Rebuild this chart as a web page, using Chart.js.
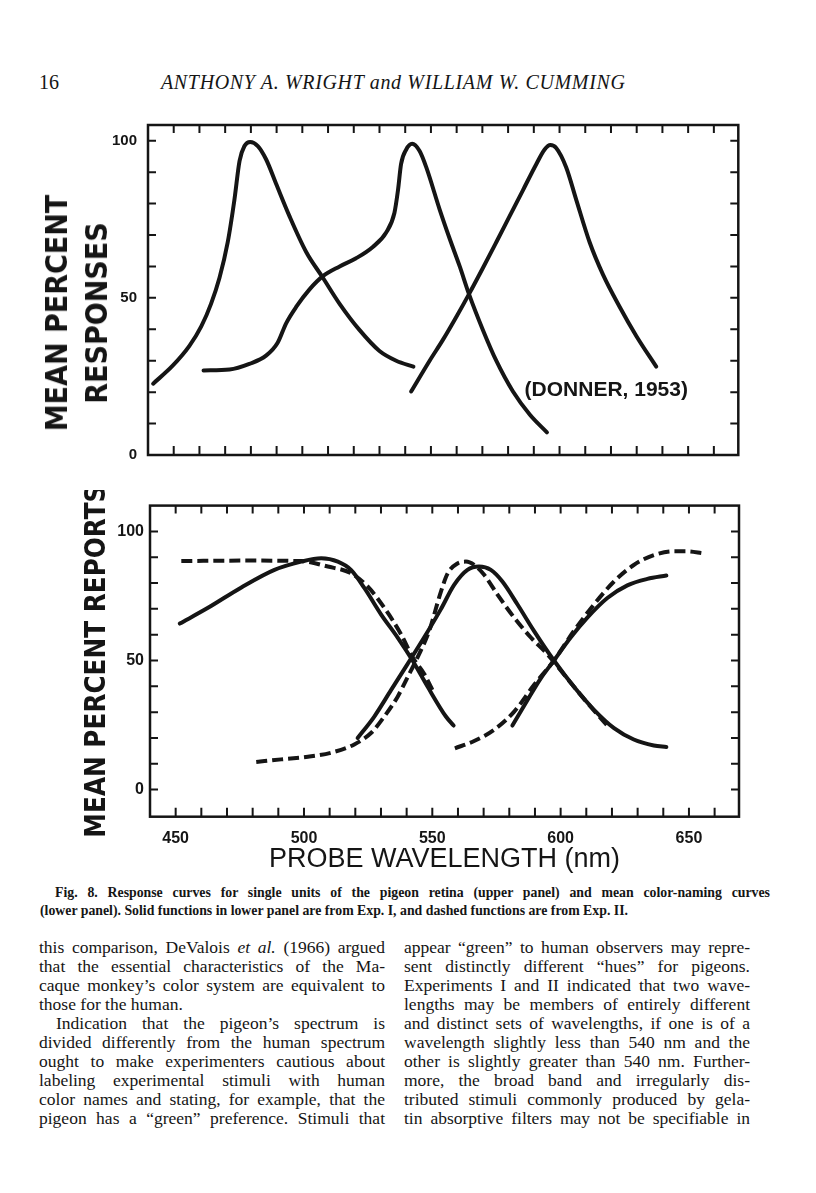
<!DOCTYPE html>
<html>
<head>
<meta charset="utf-8">
<script src="https://cdn.jsdelivr.net/npm/chart.js@4.4.1/dist/chart.umd.min.js"></script>
<style>
  body {
    margin: 0;
    width: 816px;
    height: 1193px;
    position: relative;
    overflow: hidden;
    background: #fff;
    color: #151515;
    font-family: "Liberation Serif", "Times New Roman", serif;
  }
  .t { position: absolute; white-space: pre; }
  #pageNo { left: 39px; top: 70px; font-size: 20px; line-height: 24px; }
  #runHead { left: 161px; top: 70px; font-size: 20px; line-height: 24px; font-style: italic; letter-spacing: 0.65px; }
  .cap { font-size: 13.8px; font-weight: bold; line-height: 18px; }
  .body { font-size: 17.5px; line-height: 19px; }
  .panel { position: absolute; left: 0; width: 760px; }
  #topPanel { top: 105px; height: 370px; }
  #bottomPanel { top: 490px; height: 390px; }
  #topTitle {
    position: absolute;
    left: 77px;
    top: 313px;
    transform: translate(-50%, -50%) rotate(-90deg);
    white-space: pre;
    text-align: center;
    font-family: "Liberation Sans Narrow", "DejaVu Sans Condensed", "Liberation Sans", sans-serif;
    font-weight: bold;
    font-size: 30px;
    line-height: 40px;
  }
</style>
</head>
<body>
<div class="t" id="pageNo">16</div>
<div class="t" id="runHead">ANTHONY A. WRIGHT and WILLIAM W. CUMMING</div>

<div class="panel" id="topPanel"><canvas id="topChart"></canvas></div>
<div id="topTitle">MEAN PERCENT
RESPONSES</div>
<div class="panel" id="bottomPanel"><canvas id="bottomChart"></canvas></div>

<div class="t cap" style="left:55px; top:884px" data-w="715">Fig. 8. Response curves for single units of the pigeon retina (upper panel) and mean color-naming curves</div>
<div class="t cap" style="left:40px; top:902px">(lower panel). Solid functions in lower panel are from Exp. I, and dashed functions are from Exp. II.</div>

<div class="t body" style="left:39px; top:938px" data-w="346">this comparison, DeValois <i>et al.</i> (1966) argued</div>
<div class="t body" style="left:39px; top:957px" data-w="346">that the essential characteristics of the Ma-</div>
<div class="t body" style="left:39px; top:976px" data-w="346">caque monkey’s color system are equivalent to</div>
<div class="t body" style="left:39px; top:995px">those for the human.</div>
<div class="t body" style="left:56px; top:1014px" data-w="329">Indication that the pigeon’s spectrum is</div>
<div class="t body" style="left:39px; top:1033px" data-w="346">divided differently from the human spectrum</div>
<div class="t body" style="left:39px; top:1052px" data-w="346">ought to make experimenters cautious about</div>
<div class="t body" style="left:39px; top:1071px" data-w="346">labeling experimental stimuli with human</div>
<div class="t body" style="left:39px; top:1090px" data-w="346">color names and stating, for example, that the</div>
<div class="t body" style="left:39px; top:1109px" data-w="346">pigeon has a “green” preference. Stimuli that</div>

<div class="t body" style="left:404px; top:938px" data-w="346">appear “green” to human observers may repre-</div>
<div class="t body" style="left:404px; top:957px" data-w="346">sent distinctly different “hues” for pigeons.</div>
<div class="t body" style="left:404px; top:976px" data-w="346">Experiments I and II indicated that two wave-</div>
<div class="t body" style="left:404px; top:995px" data-w="346">lengths may be members of entirely different</div>
<div class="t body" style="left:404px; top:1014px" data-w="346">and distinct sets of wavelengths, if one is of a</div>
<div class="t body" style="left:404px; top:1033px" data-w="346">wavelength slightly less than 540 nm and the</div>
<div class="t body" style="left:404px; top:1052px" data-w="346">other is slightly greater than 540 nm. Further-</div>
<div class="t body" style="left:404px; top:1071px" data-w="346">more, the broad band and irregularly dis-</div>
<div class="t body" style="left:404px; top:1090px" data-w="346">tributed stimuli commonly produced by gela-</div>
<div class="t body" style="left:404px; top:1109px" data-w="346">tin absorptive filters may not be specifiable in</div>

<script>
// wavelength axis shared by both panels (nm)
const xMin = 440;
const xMax = 669.5;
const xLabels = [450, 500, 550, 600, 650];
const yLabels = [0, 50, 100];

// upper panel: single units of the pigeon retina (Donner, 1953)
const unitANm = [442, 449.6, 456.1, 460.7, 464.5, 467.8, 471, 473.6, 475.6, 477.5, 479.7, 482.7, 485.9, 489.8, 495, 501.5, 508, 514.5, 522.2, 530, 536.5, 543.2];
const unitAVal = [22.7, 28.4, 34.7, 40.9, 48.1, 56.4, 67.7, 81.2, 93.6, 98.3, 99.6, 98.3, 94.1, 86.3, 76, 64.6, 56.4, 48.1, 39.8, 33.1, 30, 28.1];

const unitBNm = [461.6, 471.7, 479.4, 485.9, 490.4, 493.7, 497.6, 502.8, 508, 514.5, 520.9, 527.4, 532.6, 535.8, 537.2, 538.4, 540.4, 542.7, 545.6, 548.2, 553.4, 557.3, 561.2, 564.8, 570.2, 575.4, 581.9, 588.4, 595.1];
const unitBVal = [26.9, 27.2, 29, 31.6, 35.7, 41.9, 47.1, 52.7, 56.9, 60, 62.6, 66.2, 70.8, 77, 84.3, 92.6, 97.2, 99, 96.7, 91.5, 78.1, 68.8, 60, 51.2, 39.8, 30, 20.2, 12.9, 7.2];

const unitCNm = [542.3, 549.5, 554.7, 559.9, 564.8, 570.2, 575.4, 580.6, 585.8, 591, 594.2, 596.4, 598.7, 602.6, 606.5, 611.7, 616.9, 623.4, 629.9, 637.6];
const unitCVal = [20.2, 30, 36.7, 44, 51.2, 59.5, 67.7, 76, 84.3, 92.6, 97.2, 98.6, 97.7, 91.5, 81.2, 67.7, 57.4, 47.1, 37.8, 28.1];

// lower panel: mean color-naming curves, Exp. I (solid)
const exp1BlueNm = [451.6, 462.6, 475.6, 488.5, 498.9, 506.7, 513.2, 518.3, 523.5, 530, 536.5, 542.3, 548.2, 555.3, 558.3];
const exp1BlueVal = [64.3, 70.4, 78.3, 85.1, 88.3, 89.6, 88.3, 85.1, 78.1, 67.9, 58.9, 50, 39.8, 28.3, 24.8];

const exp1GreenNm = [520.9, 527.4, 533.9, 540.4, 546.8, 553.3, 558.5, 563.7, 568.2, 572.8, 577.3, 583.2, 589.6, 597.4, 605.2, 613, 620.8, 628.5, 636.3, 641.2];
const exp1GreenVal = [20, 28.3, 38.5, 48.7, 58.9, 69.8, 79.3, 85.1, 86.4, 85.1, 80.6, 71.7, 61.5, 50, 39.8, 30.9, 23.8, 19.4, 17.1, 16.5];

const exp1RedNm = [581.2, 587.1, 592.2, 597.4, 603.9, 610.4, 618.2, 626, 633.8, 641.2];
const exp1RedVal = [24.8, 34.7, 43, 50, 58.9, 66.6, 74.2, 79.1, 81.6, 82.9];

// lower panel: Exp. II (dashed)
const exp2BlueNm = [452.2, 475.6, 498.9, 509.3, 518.3, 524.8, 531.3, 537.8, 542.3, 546.8, 550.7];
const exp2BlueVal = [88.5, 88.7, 88.5, 86.4, 83.8, 78.7, 70.4, 60.2, 51.3, 44.9, 37.2];

const exp2GreenNm = [481.4, 491.1, 501.5, 510.6, 519.6, 526.1, 531.3, 536.5, 540.4, 544.3, 548.8, 553.3, 556, 559.8, 563.1, 566.3, 570.2, 575.4, 581.9, 588.4, 594.8, 600, 605.2, 611.7, 618.2];
const exp2GreenVal = [10.7, 11.7, 12.7, 14.3, 17.5, 21.9, 28.3, 36, 43.6, 51.3, 61.5, 76.5, 83.8, 87.6, 88.3, 87, 83.2, 75.5, 66.6, 58.9, 52.5, 46.2, 39.8, 32.1, 24.8];

const exp2RedNm = [558.8, 566.3, 574.1, 581.9, 589.6, 597.4, 605.2, 613, 620.8, 628.5, 636.3, 644.1, 649.3, 655.5];
const exp2RedVal = [16, 18.8, 23.2, 30.2, 40.5, 50, 61.5, 71.7, 80.6, 87, 90.8, 92.3, 92.3, 91.5];

const ink = "#151515";
const sans = "'Liberation Sans', Arial, sans-serif";
const narrow = "'Liberation Sans Narrow', 'DejaVu Sans Condensed', 'Liberation Sans', sans-serif";

function curve(nm, val, dashed) {
  return {
    data: nm.map((x, i) => ({ x, y: val[i] })),
    showLine: true,
    borderColor: ink,
    borderWidth: 4,
    borderDash: dashed ? [11, 5] : [],
    borderCapStyle: dashed ? "butt" : "round",
    cubicInterpolationMode: "monotone",
    pointRadius: 0,
    fill: false,
  };
}

// box with inward ticks on all four sides, plus an optional note
const framePlugin = {
  id: "frame",
  afterDraw(chart, args, opts) {
    const { ctx, chartArea: a } = chart;
    const { x, y } = chart.scales;

    ctx.save();
    ctx.strokeStyle = ink;
    ctx.lineWidth = 2.5;
    ctx.strokeRect(a.left, a.top, a.right - a.left, a.bottom - a.top);

    ctx.lineWidth = 2;
    ctx.beginPath();
    x.ticks.forEach((t) => {
      const px = x.getPixelForValue(t.value);
      if (px < a.left + 4 || px > a.right - 4) return;
      ctx.moveTo(px, a.bottom);
      ctx.lineTo(px, a.bottom - 9);
      ctx.moveTo(px, a.top);
      ctx.lineTo(px, a.top + 8);
    });
    y.ticks.forEach((t) => {
      const py = y.getPixelForValue(t.value);
      if (py < a.top + 4 || py > a.bottom - 4) return;
      ctx.moveTo(a.left, py);
      ctx.lineTo(a.left + 8, py);
      ctx.moveTo(a.right, py);
      ctx.lineTo(a.right - 8, py);
    });
    ctx.stroke();

    if (opts.note) {
      ctx.fillStyle = ink;
      ctx.font = `bold 21px ${sans}`;
      ctx.textBaseline = "middle";
      ctx.fillText(opts.note.text, x.getPixelForValue(opts.note.x), y.getPixelForValue(opts.note.y));
    }
    ctx.restore();
  },
};

function panelOptions({ yMin, yMax, yTitle, yWidth, yTickFont, yTickPad, showX, xHeight, pad, note }) {
  return {
    responsive: true,
    maintainAspectRatio: false,
    animation: false,
    events: [],
    layout: { padding: pad },
    plugins: {
      legend: { display: false },
      tooltip: { enabled: false },
      frame: { note },
    },
    scales: {
      x: {
        type: "linear",
        min: xMin,
        max: xMax,
        grid: { display: false, drawTicks: false },
        border: { display: false },
        ticks: {
          display: showX,
          stepSize: 10,
          includeBounds: false,
          autoSkip: false,
          maxRotation: 0,
          padding: 12,
          color: ink,
          font: { family: sans, size: 16, weight: "bold" },
          callback: (v) => (xLabels.includes(v) ? v : ""),
        },
        title: {
          display: showX,
          text: "PROBE WAVELENGTH (nm)",
          color: ink,
          font: { family: sans, size: 27 },
          padding: { top: 0, bottom: 4 },
        },
        afterFit: (s) => {
          s.height = xHeight;
        },
      },
      y: {
        type: "linear",
        min: yMin,
        max: yMax,
        grid: { display: false, drawTicks: false },
        border: { display: false },
        ticks: {
          stepSize: 10,
          includeBounds: false,
          autoSkip: false,
          padding: yTickPad,
          color: ink,
          font: { family: sans, size: yTickFont, weight: "bold" },
          callback: (v) => (yLabels.includes(v) ? v : ""),
        },
        title: {
          display: !!yTitle,
          text: yTitle || "",
          color: ink,
          font: { family: narrow, size: 27.5, weight: "bold", lineHeight: 1.2 },
          padding: { top: 81, bottom: 0 },
        },
        afterFit: (s) => {
          s.width = yWidth;
        },
      },
    },
  };
}

new Chart(document.getElementById("topChart"), {
  type: "scatter",
  data: {
    datasets: [
      curve(unitANm, unitAVal, false),
      curve(unitBNm, unitBVal, false),
      curve(unitCNm, unitCVal, false),
    ],
  },
  options: panelOptions({
    yMin: 0,
    yMax: 105,
    yTitle: null,
    yWidth: 148,
    yTickFont: 15,
    yTickPad: 11,
    showX: false,
    xHeight: 15,
    pad: { top: 16.7, right: 21.7, bottom: 0, left: 0 },
    note: { text: "(DONNER, 1953)", x: 586.4, y: 20.5 },
  }),
  plugins: [framePlugin],
});

new Chart(document.getElementById("bottomChart"), {
  type: "scatter",
  data: {
    datasets: [
      curve(exp1BlueNm, exp1BlueVal, false),
      curve(exp1GreenNm, exp1GreenVal, false),
      curve(exp1RedNm, exp1RedVal, false),
      curve(exp2BlueNm, exp2BlueVal, true),
      curve(exp2GreenNm, exp2GreenVal, true),
      curve(exp2RedNm, exp2RedVal, true),
    ],
  },
  options: panelOptions({
    yMin: -10.5,
    yMax: 110,
    yTitle: "MEAN PERCENT REPORTS",
    yWidth: 150,
    yTickFont: 16,
    yTickPad: 6,
    showX: true,
    xHeight: 63.3,
    pad: { top: 11.7, right: 21, bottom: 0, left: 0 },
    note: null,
  }),
  plugins: [framePlugin],
});

// spread each printed line to its column width, as in the typeset page
document.querySelectorAll("[data-w]").forEach((el) => {
  const target = Number(el.dataset.w);
  const gaps = (el.textContent.match(/ /g) || []).length;
  if (!gaps) return;
  const natural = el.getBoundingClientRect().width;
  el.style.wordSpacing = `${(target - natural) / gaps}px`;
});
</script>
</body>
</html>
